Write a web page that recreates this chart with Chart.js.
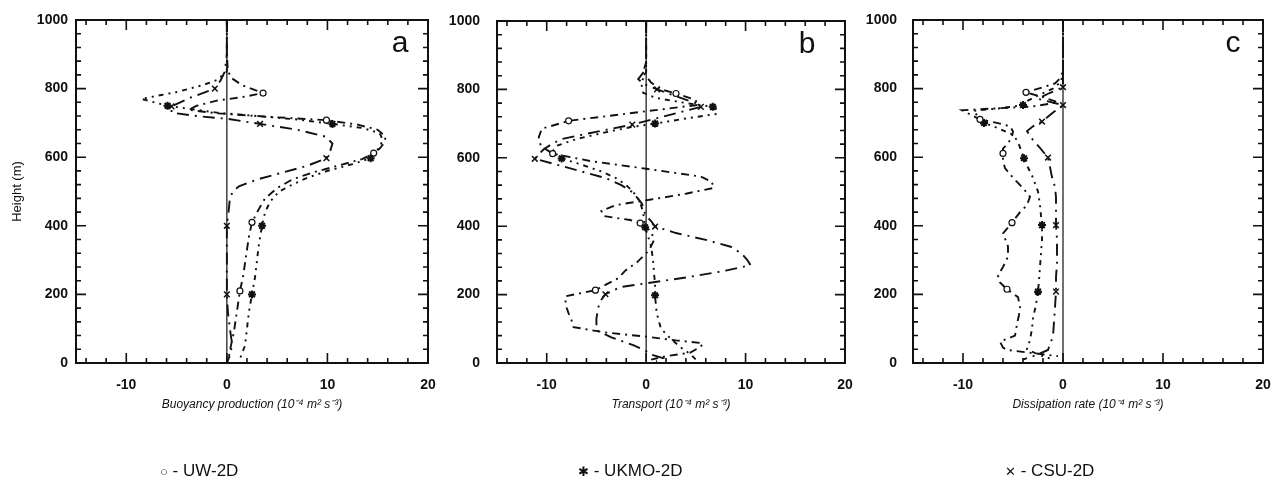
<!DOCTYPE html>
<html>
<head>
<meta charset="utf-8">
<script src="https://cdn.jsdelivr.net/npm/chart.js@4.4.1/dist/chart.umd.min.js"></script>
<style>
  body { margin: 0; background: #fff; }
  #wrap { position: relative; width: 1283px; height: 480px; overflow: hidden; font-family: 'Liberation Sans', Arial, sans-serif; color: #111; }
  .panel { position: absolute; top: 0; }
  .key { position: absolute; top: 461px; font-size: 17px; white-space: nowrap; }
  .key .m { font-size: 13px; }
</style>
</head>
<body>
<div id="wrap">
  <canvas id="panelA" class="panel" width="440" height="480" style="left:0px"></canvas>
  <canvas id="panelB" class="panel" width="420" height="480" style="left:440px"></canvas>
  <canvas id="panelC" class="panel" width="423" height="480" style="left:860px"></canvas>
  <div class="key" style="left:160px"><span class="m">○</span> - UW-2D</div>
  <div class="key" style="left:578px"><span class="m">✱</span> - UKMO-2D</div>
  <div class="key" style="left:1005px"><span class="m">✕</span> - CSU-2D</div>
</div>
<script>
// heights (m) and values (10^-4 m2 s-3)

// a - buoyancy production
const uwBuoyH = [1000, 900, 850, 830, 810, 787, 775, 765, 750, 738, 728, 718, 708, 695, 680, 660, 640, 625, 612, 595, 575, 555, 535, 510, 480, 450, 410, 370, 330, 290, 250, 210, 170, 130, 90, 50, 20, 0];
const uwBuoyX = [0, 0, 0.1, 0.5, 1.5, 3.6, 1.5, -1, -3, -3.8, -1, 4, 9.9, 13, 15, 15.8, 15.6, 15.2, 14.6, 13.5, 11, 8.5, 6.5, 5, 3.8, 3.2, 2.5, 2.2, 2, 1.8, 1.6, 1.3, 1.1, 0.9, 0.7, 0.4, 0.2, 0];
const ukBuoyH = [1000, 900, 850, 825, 810, 790, 770, 750, 740, 730, 720, 710, 697, 685, 670, 650, 630, 615, 597, 580, 560, 540, 520, 500, 470, 440, 400, 350, 300, 250, 200, 150, 100, 50, 20, 0];
const ukBuoyX = [0, 0, 0, -1, -2.4, -5, -8.5, -5.9, -3.5, -1, 3, 7, 10.5, 13.5, 15.2, 15.5, 15.2, 14.8, 14.3, 12.5, 10, 8, 6.5, 5.2, 4.3, 3.8, 3.5, 3.2, 3, 2.8, 2.5, 2.2, 2, 1.8, 1.4, 1.2];
const csBuoyH = [1000, 900, 850, 825, 800, 775, 748, 730, 720, 712, 697, 680, 660, 640, 620, 597, 575, 555, 535, 515, 500, 480, 450, 400, 350, 300, 250, 200, 150, 100, 60, 30, 0];
const csBuoyX = [0, 0, -0.2, -0.6, -1.2, -3.5, -5.5, -5.5, -3, 0, 3.3, 7, 9.8, 10.5, 10.3, 9.9, 8, 5.5, 3, 1.2, 0.6, 0.3, 0.2, 0, 0, 0, 0, 0, 0.1, 0.3, 0.5, 0.4, 0];

// b - transport
const uwTranH = [1000, 880, 850, 820, 800, 788, 770, 755, 730, 708, 685, 660, 635, 612, 590, 568, 545, 530, 512, 495, 478, 462, 445, 430, 418, 409, 385, 360, 330, 295, 270, 248, 213, 195, 170, 145, 125, 105, 90, 77, 66, 58, 48, 30, 20, 10];
const uwTranX = [0, 0, -0.3, 0.5, 1.5, 3.0, 4.9, 5.3, -1.7, -7.8, -10.5, -10.8, -10.6, -9.4, -5.5, 0, 5.5, 6.6, 6.8, 4, 0.5, -3, -4.5, -4.3, -1.6, -0.6, 0.5, 0.8, 0.3, -0.9, -2.1, -2.8, -5.1, -8.1, -8.1, -7.8, -7.5, -7.3, -4.3, 0, 3, 5.7, 5.5, 4.4, 2, 0.5];
const ukTranH = [1000, 880, 850, 820, 790, 775, 760, 749, 740, 728, 715, 700, 690, 675, 655, 635, 615, 598, 580, 560, 540, 520, 500, 480, 460, 440, 420, 397, 370, 340, 300, 260, 230, 198, 160, 130, 100, 70, 45, 25, 10];
const ukTranX = [0, 0, 0, -0.5, -0.3, 1, 4, 6.7, 7.2, 7, 4, 0.9, -1.5, -4, -7, -9, -9.5, -8.5, -6.5, -4.5, -3, -2, -1.3, -0.8, -0.5, -0.3, -0.2, -0.1, 0.2, 0.5, 0.7, 0.8, 0.9, 0.9, 1, 1.2, 1.5, 2.5, 3.5, 4.5, 5];
const csTranH = [1000, 880, 860, 830, 815, 800, 780, 760, 749, 730, 715, 697, 685, 670, 655, 640, 625, 610, 597, 580, 560, 540, 520, 500, 480, 465, 450, 430, 415, 399, 380, 360, 340, 320, 300, 286, 270, 250, 233, 222, 201, 185, 164, 130, 96, 75, 52, 35, 25, 14, 5];
const csTranX = [0, 0, 0, -0.8, -0.2, 1.1, 3, 5, 5.5, 3, 1, -1.4, -3.5, -6, -8.5, -9.5, -10.3, -10.8, -11.2, -9, -6.5, -4, -2.5, -1.4, -0.8, -0.4, -0.3, 0, 0.5, 0.9, 3, 6, 8.5, 9.6, 10.2, 10.5, 8, 4, 0, -2.6, -4.1, -4.5, -4.8, -5.0, -5.0, -3.5, -1.3, 0, 0.5, 1.7, 1];

// c - dissipation rate
const uwDissH = [1000, 880, 850, 830, 815, 789, 775, 760, 748, 737, 725, 710, 700, 690, 675, 660, 640, 625, 611, 590, 568, 540, 510, 485, 460, 440, 409, 378, 340, 310, 280, 255, 235, 215, 192, 163, 140, 113, 80, 62, 45, 38, 30, 20];
const uwDissX = [0, 0, 0, -0.3, -0.8, -3.7, -2, -0.5, -3, -10.1, -9.3, -8.3, -6.6, -5.3, -5, -5.1, -5.5, -6, -6.0, -6, -5.8, -5, -4, -3.3, -3.6, -4.3, -5.1, -6, -5.5, -5.5, -6, -6.5, -6.3, -5.6, -4.5, -4.3, -4.4, -4.6, -4.8, -6.3, -6, -5.6, -3.3, -0.5];
const ukDissH = [1000, 880, 850, 820, 800, 780, 765, 752, 742, 735, 720, 700, 685, 665, 645, 620, 597, 570, 540, 500, 460, 430, 402, 360, 320, 280, 240, 208, 170, 130, 100, 67, 40, 25, 10];
const ukDissX = [0, 0, 0, -0.2, -1, -2.5, -3.5, -4.0, -6.5, -9, -8.5, -7.9, -6.5, -5, -4.5, -4.2, -3.9, -3.5, -3, -2.5, -2.3, -2.2, -2.1, -2.1, -2.2, -2.3, -2.4, -2.5, -2.7, -3, -3.1, -3.3, -3.6, -2.5, -1];
const csDissH = [1000, 880, 850, 804, 785, 770, 752, 730, 704, 690, 676, 650, 627, 599, 571, 542, 513, 484, 450, 402, 360, 290, 250, 208, 162, 120, 77, 55, 38, 25, 10];
const csDissX = [0, 0, 0, 0, -1.5, -2.5, 0, -1, -2.1, -3, -3.6, -3, -2.3, -1.5, -1.3, -1.1, -0.8, -0.7, -0.7, -0.7, -0.6, -0.6, -0.7, -0.7, -0.8, -0.9, -1, -1.3, -1.5, -2.5, -4];

// heights where a model symbol is drawn
const uwBuoyMarks = [787, 708, 612, 410, 210];
const ukBuoyMarks = [750, 697, 597, 400, 200];
const csBuoyMarks = [800, 748, 697, 597, 400, 200];
const uwTranMarks = [788, 708, 612, 409, 213];
const ukTranMarks = [749, 700, 598, 397, 198];
const csTranMarks = [800, 749, 697, 597, 399, 201];
const uwDissMarks = [789, 710, 611, 409, 215];
const ukDissMarks = [752, 700, 597, 402, 208];
const csDissMarks = [804, 752, 704, 599, 402, 208];

const FONT = "'Liberation Sans', Arial, sans-serif";
const INK = '#111';

const models = {
  uw: { name: 'UW-2D', dash: [8, 5, 2, 5], marker: 'circle', size: 3, fill: '#fff', bw: 1.2 },
  uk: { name: 'UKMO-2D', dash: [5, 5, 2, 5, 2, 5], marker: 'star', size: 4, fill: INK, bw: 2 },
  cs: { name: 'CSU-2D', dash: [12, 6, 2, 6], marker: 'crossRot', size: 4, fill: INK, bw: 1.5 }
};

// box, zero line, inward ticks and panel letter
const frame = {
  id: 'frame',
  beforeDatasetsDraw(chart) {
    const { ctx, chartArea: a, scales: { x } } = chart;
    const x0 = x.getPixelForValue(0);
    ctx.save();
    ctx.strokeStyle = INK;
    ctx.lineWidth = 1.2;
    ctx.beginPath();
    ctx.moveTo(x0, a.top);
    ctx.lineTo(x0, a.bottom);
    ctx.stroke();
    ctx.restore();
  },
  afterDraw(chart, args, opts) {
    const { ctx, chartArea: a, scales: { x, y } } = chart;
    ctx.save();
    ctx.strokeStyle = INK;
    ctx.lineWidth = 2;
    ctx.strokeRect(a.left, a.top, a.width, a.height);
    ctx.lineWidth = 1.6;
    ctx.beginPath();
    for (let v = -14; v < 20; v += 2) {
      const len = v % 10 === 0 ? 10 : 5;
      const px = x.getPixelForValue(v);
      ctx.moveTo(px, a.bottom); ctx.lineTo(px, a.bottom - len);
      ctx.moveTo(px, a.top); ctx.lineTo(px, a.top + len);
    }
    for (let v = 40; v < 1000; v += 40) {
      const len = v % 200 === 0 ? 10 : 5;
      const py = y.getPixelForValue(v);
      ctx.moveTo(a.left, py); ctx.lineTo(a.left + len, py);
      ctx.moveTo(a.right, py); ctx.lineTo(a.right - len, py);
    }
    ctx.stroke();
    ctx.fillStyle = INK;
    ctx.font = '30px ' + FONT;
    ctx.textAlign = 'center';
    ctx.textBaseline = 'middle';
    ctx.fillText(opts.letter, a.right - opts.letterDx, a.top + 24);
    ctx.restore();
  }
};

function series(m, hs, xs, marks) {
  return {
    label: m.name,
    data: hs.map((h, i) => ({ x: xs[i], y: h })),
    showLine: true,
    tension: 0,
    borderColor: INK,
    borderWidth: 1.9,
    borderDash: m.dash,
    pointStyle: m.marker,
    pointRadius: c => (c.raw && marks.includes(c.raw.y)) ? m.size : 0,
    pointHoverRadius: 0,
    pointBackgroundColor: m.fill,
    pointBorderColor: INK,
    pointBorderWidth: m.bw
  };
}

function makePanel(id, p) {
  new Chart(document.getElementById(id), {
    type: 'scatter',
    data: { datasets: p.datasets },
    options: {
      responsive: false,
      animation: false,
      layout: { padding: { left: 0, top: p.top, right: p.right, bottom: 57 } },
      plugins: {
        legend: { display: false },
        tooltip: { enabled: false },
        frame: { letter: p.letter, letterDx: p.letterDx }
      },
      scales: {
        x: {
          type: 'linear', min: -15, max: 20,
          afterFit: s => { s.height = 60; },
          border: { display: false },
          // invisible tick marks only reserve the gap under the box
          grid: { color: 'transparent', drawOnChartArea: false, drawTicks: true, tickLength: 11 },
          ticks: {
            stepSize: 10, padding: 3, color: INK, maxRotation: 0, autoSkip: false,
            font: { family: FONT, size: 14, weight: 'bold' },
            callback: v => v === -15 ? '' : String(v)
          },
          title: {
            display: true, text: p.xTitle, color: INK,
            font: { family: FONT, size: 12, style: 'italic' },
            padding: { top: 0, bottom: 11 }
          }
        },
        y: {
          type: 'linear', min: 0, max: 1000,
          afterFit: s => { s.width = p.yWidth; },
          border: { display: false },
          grid: { color: 'transparent', drawOnChartArea: false, drawTicks: true, tickLength: p.yPad - 3 },
          ticks: {
            stepSize: 200, padding: 3, color: INK,
            font: { family: FONT, size: 14, weight: 'bold' },
            callback: v => String(v)
          },
          title: {
            display: p.yTitle, text: 'Height (m)', color: INK,
            font: { family: FONT, size: 13 },
            padding: { top: 10, bottom: 0 }
          }
        }
      }
    },
    plugins: [frame]
  });
}

makePanel('panelA', {
  letter: 'a', letterDx: 28, top: 20, right: 12, yWidth: 76, yPad: 8, yTitle: true,
  xTitle: 'Buoyancy production (10⁻⁴ m² s⁻³)',
  datasets: [
    series(models.uw, uwBuoyH, uwBuoyX, uwBuoyMarks),
    series(models.uk, ukBuoyH, ukBuoyX, ukBuoyMarks),
    series(models.cs, csBuoyH, csBuoyX, csBuoyMarks)
  ]
});

makePanel('panelB', {
  letter: 'b', letterDx: 38, top: 21, right: 15, yWidth: 57, yPad: 17, yTitle: false,
  xTitle: 'Transport (10⁻⁴ m² s⁻³)',
  datasets: [
    series(models.uw, uwTranH, uwTranX, uwTranMarks),
    series(models.uk, ukTranH, ukTranX, ukTranMarks),
    series(models.cs, csTranH, csTranX, csTranMarks)
  ]
});

makePanel('panelC', {
  letter: 'c', letterDx: 30, top: 20, right: 20, yWidth: 53, yPad: 16, yTitle: false,
  xTitle: 'Dissipation rate (10⁻⁴ m² s⁻³)',
  datasets: [
    series(models.uw, uwDissH, uwDissX, uwDissMarks),
    series(models.uk, ukDissH, ukDissX, ukDissMarks),
    series(models.cs, csDissH, csDissX, csDissMarks)
  ]
});
</script>
</body>
</html>
